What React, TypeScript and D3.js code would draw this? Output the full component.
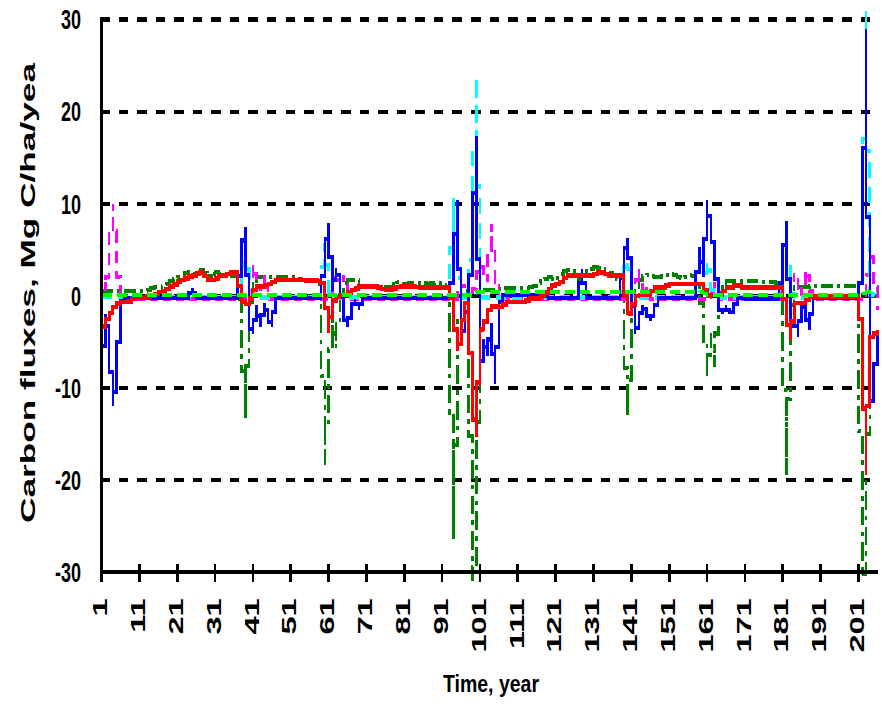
import React, { useEffect, useRef } from "react";
import * as d3 from "d3";

// the whole picture is drawn taller than wide, so everything is squeezed into a
// group that is stretched back by SY
const SY = 1.55;

const YEARS = d3.range(1, 207);
const TICK_YEARS = [1, 11, 21, 31, 41, 51, 61, 71, 81, 91, 101, 111, 121, 131, 141, 151, 161, 171, 181, 191, 201];
const Y_TICKS = [30, 20, 10, 0, -10, -20, -30];
const Y_LABELS = ["30", "20", "10", "0", "-10", "-20", "-30"];

const RED = [
  -4.0, -2.7, -2.3, -1.4, -1.0, -0.7, -0.7, -0.7, -0.5, -0.2,
  -0.2, -0.2, -0.2, 0.0, 0.0, 0.4, 0.4, 0.5, 1.0, 1.0,
  1.4, 1.7, 1.7, 2.1, 2.1, 2.3, 2.5, 2.5, 1.8, 1.7,
  1.7, 2.1, 2.2, 2.2, 2.5, 2.5, 2.5, -0.4, -0.9, -0.9,
  0.3, 1.0, 1.0, 1.0, 1.3, 1.3, 1.7, 1.7, 1.7, 1.7,
  1.7, 1.7, 1.7, 1.7, 1.7, 1.6, 1.7, 1.7, 1.5, 1.3,
  -4.0, -0.6, -0.4, 0.1, 0.1, 0.1, 0.6, 0.6, 1.0, 1.0,
  1.0, 1.0, 1.0, 1.0, 0.8, 0.7, 0.7, 0.7, 0.9, 1.0,
  1.0, 1.0, 1.0, 1.0, 0.9, 0.9, 0.9, 0.9, 0.9, 0.9,
  0.9, 0.9, 0.9, -1.3, -6.0, -4.5, -0.8, -0.8, -11.6, -15.3,
  -3.5, -3.8, -1.8, -1.3, -1.0, -1.2, -1.2, -0.7, -0.7, -0.7,
  -0.7, -0.7, -0.7, -0.3, -0.3, -0.3, -0.3, 0.2, 0.5, 0.9,
  1.3, 1.3, 1.7, 2.2, 2.2, 2.2, 2.2, 2.2, 2.2, 2.2,
  2.2, 2.5, 2.5, 2.5, 2.2, 2.2, 2.2, 2.2, 2.2, -2.1,
  -1.8, -0.1, 0.1, 0.1, 0.1, 0.1, 0.9, 0.9, 0.9, 0.9,
  1.3, 1.3, 1.3, 1.3, 1.3, 1.3, 1.3, 1.3, 1.3, 1.3,
  -0.2, 0.1, 0.1, 0.1, 0.1, 0.9, 0.9, 0.9, 1.3, 0.9,
  0.9, 0.9, 0.9, 0.9, 0.9, 0.9, 0.9, 0.9, 0.9, 0.9,
  0.9, -1.6, -4.8, -0.8, -0.8, -0.8, -0.8, -0.1, -0.1, -0.1,
  -0.1, -0.1, -0.1, -0.1, -0.1, -0.1, -0.1, -0.1, -0.1, -0.1,
  -0.1, -5.0, -19.5, -4.5, -4.5, -3.7,
];

const BLUE = [
  -9.0, -2.0, -4.5, -12.0, -9.0, -1.0, -0.2, -0.2, -0.2, -0.2,
  -0.2, -0.2, -0.2, -0.2, -0.2, -0.2, -0.2, -0.2, -0.2, -0.2,
  -0.2, -0.2, -0.2, -0.2, 0.8, -0.2, -0.2, -0.2, -0.2, -0.2,
  -0.2, -0.2, -0.2, -0.2, -0.2, -0.2, -0.2, 4.5, 7.5, -3.0,
  -4.2, -1.0, -3.4, -0.8, -2.2, -3.4, -0.2, -0.2, -0.2, -0.2,
  -0.2, -0.2, -0.2, -0.2, -0.2, -0.2, -0.2, -0.2, -0.2, 4.5,
  7.9, 0.5, 3.0, 1.6, -1.8, -3.4, -1.5, -0.3, -1.5, -0.2,
  -0.2, -0.2, -0.2, -0.2, -0.2, -0.2, -0.2, -0.2, -0.2, -0.2,
  -0.2, -0.2, -0.2, -0.2, -0.2, -0.2, -0.2, -0.2, -0.2, -0.2,
  -0.2, -0.2, -0.2, 3.0, 10.4, -4.5, -3.1, -0.5, 5.0, 17.3,
  -9.4, -4.7, -6.5, -3.0, -9.6, -1.5, 0.1, 0.1, 0.1, 0.1,
  0.1, 0.1, 0.1, 0.1, 0.1, 0.1, 0.1, 0.1, -0.2, -0.2,
  -0.2, -0.2, -0.2, -0.2, -0.2, -0.2, -0.2, 2.9, -0.2, -0.2,
  -0.2, -0.2, -0.2, -0.2, -0.2, -0.2, -0.2, -0.2, 4.0, 6.3,
  2.0, -4.2, -2.7, -1.0, -1.8, -2.7, -1.8, -0.2, -0.2, -0.2,
  -0.2, -0.2, -0.2, -0.2, -0.2, -0.2, -0.2, -0.2, 5.3, 2.0,
  10.4, 7.0, 4.7, -1.0, -2.0, -1.0, -2.0, -1.5, -0.2, -0.2,
  -0.3, -0.3, -0.3, -0.3, -0.3, -0.3, -0.3, -0.3, -0.3, -0.3,
  3.0, 8.1, -4.5, -2.0, -4.5, -1.0, -1.5, -3.7, -0.2, -0.2,
  -0.2, -0.2, -0.2, -0.2, -0.2, -0.2, -0.2, -0.2, -0.2, -0.2,
  -0.2, 3.0, 29.0, -12.0, -10.8, -4.0,
];

const CYAN = [
  -0.1, -0.1, -0.1, -0.1, -0.1, -0.1, -0.1, -0.1, -0.1, -0.1,
  -0.2, -0.2, -0.2, -0.2, -0.2, -0.2, -0.2, -0.2, -0.2, -0.2,
  -0.2, -0.2, -0.2, -0.2, -0.2, -0.2, -0.2, -0.2, -0.2, -0.2,
  -0.2, -0.2, -0.2, -0.2, -0.2, -0.2, -0.2, 1.5, 5.3, 0.5,
  -0.2, -0.2, -0.2, -0.2, -0.2, -0.2, -0.2, -0.2, -0.2, -0.2,
  -0.2, -0.2, -0.2, -0.2, -0.2, -0.2, -0.2, -0.2, 0.5, 5.7,
  1.0, -0.2, -0.2, -0.2, -0.2, -0.2, -0.2, -0.2, -0.2, -0.2,
  -0.2, -0.2, -0.2, -0.2, -0.2, -0.2, -0.2, -0.2, -0.2, -0.2,
  -0.2, -0.2, -0.2, -0.2, -0.2, -0.2, -0.2, -0.2, -0.2, -0.2,
  -0.2, -0.2, -0.2, 10.6, 4.0, -0.2, -0.2, -0.2, 8.0, 23.8,
  0.0, -0.2, -0.2, -0.2, -0.2, -0.2, -0.2, -0.2, -0.2, -0.2,
  -0.2, -0.2, -0.2, -0.2, -0.2, -0.2, -0.2, -0.2, -0.2, -0.2,
  -0.2, -0.2, -0.2, -0.2, -0.2, -0.2, -0.2, -0.2, -0.2, -0.2,
  -0.2, -0.2, -0.2, -0.2, -0.2, -0.2, -0.2, -0.2, 1.0, 5.3,
  0.5, -0.2, -0.2, -0.2, -0.2, -0.2, -0.2, -0.2, -0.2, -0.2,
  -0.2, -0.2, -0.2, -0.2, -0.2, -0.2, -0.2, -0.2, -0.2, 1.0,
  4.0, 1.5, -0.2, -0.2, -0.2, -0.2, -0.2, -0.2, -0.2, -0.2,
  -0.2, -0.2, -0.2, -0.2, -0.2, -0.2, -0.2, -0.2, -0.2, -0.2,
  1.0, 7.5, 0.5, -0.2, -0.2, -0.2, -0.2, -0.2, -0.2, -0.2,
  -0.2, -0.2, -0.2, -0.2, -0.2, -0.2, -0.2, -0.2, -0.2, -0.2,
  -0.2, 3.0, 31.0, 0.5, -0.2, -0.2,
];

const MAGENTA = [
  3.0, 0.5, 3.5, 10.0, 4.0, 0.0, -0.4, -0.4, -0.4, -0.4,
  -0.4, -0.4, -0.4, -0.4, -0.4, -0.4, -0.4, -0.4, -0.4, -0.4,
  -0.4, -0.4, -0.4, -0.4, -0.4, -0.4, -0.4, -0.4, -0.4, -0.4,
  -0.4, -0.4, -0.4, -0.4, -0.4, -0.4, -0.4, -0.4, -0.4, 1.0,
  3.3, 1.5, 0.5, 2.2, -0.4, -0.4, -0.4, -0.4, -0.4, -0.4,
  -0.4, -0.4, -0.4, -0.4, -0.4, -0.4, -0.4, -0.4, -0.4, -0.4,
  -0.4, 1.0, 2.9, 0.5, 2.3, 0.0, -0.4, -0.4, -0.4, -0.4,
  -0.4, -0.4, -0.4, -0.4, -0.4, -0.4, -0.4, -0.4, -0.4, -0.4,
  -0.4, -0.4, -0.4, -0.4, -0.4, -0.4, -0.4, -0.4, -0.4, -0.4,
  -0.4, -0.4, -0.4, -0.4, -0.4, 2.2, 0.0, -0.4, 0.5, 1.0,
  4.2, 2.0, 1.5, 7.8, 3.0, 0.0, -0.4, -0.4, -0.4, -0.4,
  -0.4, -0.4, -0.4, -0.4, -0.4, -0.4, -0.4, -0.4, -0.4, -0.4,
  -0.4, -0.4, -0.4, -0.4, -0.4, -0.4, -0.4, -0.4, -0.4, -0.4,
  -0.4, -0.4, -0.4, -0.4, -0.4, -0.4, -0.4, -0.4, -0.4, -0.4,
  -0.4, 0.5, 2.9, 0.0, 1.0, -0.4, -0.4, -0.4, -0.4, -0.4,
  -0.4, -0.4, -0.4, -0.4, -0.4, -0.4, -0.4, -0.4, -0.4, -0.4,
  -0.4, -0.4, 1.5, -0.4, -0.4, -0.4, -0.4, -0.4, -0.4, -0.4,
  -0.4, -0.4, -0.4, -0.4, -0.4, -0.4, -0.4, -0.4, -0.4, -0.4,
  -0.4, -0.4, 0.0, 2.5, 1.0, 0.0, 2.8, 1.5, -0.4, -0.4,
  -0.4, -0.4, -0.4, -0.4, -0.4, -0.4, -0.4, -0.4, -0.4, -0.4,
  -0.4, -0.4, -0.4, 5.0, 3.5, -1.5,
];

const GREEN = [
  0.6, 0.5, 0.5, 0.5, 0.5, 0.5, 0.5, 0.5, 0.5, 0.5,
  0.5, 0.5, 0.5, 0.8, 0.9, 0.9, 0.9, 1.3, 1.3, 1.8,
  1.8, 2.2, 2.2, 2.8, 2.4, 2.4, 2.8, 2.8, 2.2, 2.0,
  2.8, 2.4, 2.4, 2.2, 2.2, 2.2, 2.2, -3.0, -13.4, -1.8,
  0.5, 2.0, 2.0, 2.0, 2.0, 2.0, 2.0, 2.0, 2.0, 2.0,
  2.0, 2.0, 2.0, 1.7, 1.7, 1.7, 1.7, 1.5, 1.0, -18.4,
  -9.0, -2.5, -5.7, -0.5, 1.0, 1.7, 1.7, 1.7, 1.7, 1.2,
  1.0, 1.0, 1.0, 1.0, 1.0, 1.0, 1.0, 1.0, 1.6, 1.3,
  1.3, 1.3, 1.4, 1.4, 1.4, 1.4, 1.3, 1.3, 1.4, 1.4,
  1.3, 1.0, 1.0, -26.4, -6.0, 0.5, 0.5, 0.5, -31.0, -28.0,
  0.6, 0.6, 0.6, 0.6, 0.6, 0.6, 0.8, 0.8, 0.8, 0.8,
  0.8, 0.8, 0.8, 0.8, 1.0, 1.2, 1.5, 1.7, 2.0, 2.0,
  1.7, 2.2, 2.5, 2.8, 2.8, 2.5, 2.0, 1.7, 2.5, 2.8,
  3.1, 3.1, 3.0, 2.8, 2.5, 2.5, 2.0, 1.7, -2.5, -13.2,
  -5.0, 0.5, 1.5, 2.0, 2.3, 2.3, 2.0, 2.0, 2.0, 2.2,
  2.4, 2.4, 2.2, 1.9, 1.9, 2.2, 2.3, 2.0, 0.5, -2.0,
  -8.9, -4.0, -7.7, -0.5, 1.0, 1.6, 1.6, 1.6, 1.6, 1.6,
  1.6, 1.6, 1.6, 1.6, 1.5, 1.5, 1.5, 1.5, 1.5, 1.2,
  -1.0, -19.5, -3.0, 0.9, 0.9, 0.9, 0.9, 1.1, 1.1, 1.1,
  1.1, 1.1, 1.1, 1.1, 1.1, 1.1, 1.1, 1.1, 1.1, 1.1,
  1.1, -30.5, -30.0, 0.0, 0.0, 0.0,
];

const LIME = [
  0.1, 0.1, 0.1, 0.1, 0.1, 0.1, 0.1, 0.1, 0.1, 0.1,
  0.1, 0.1, 0.1, 0.1, 0.1, 0.1, 0.1, 0.1, 0.1, 0.1,
  0.1, 0.1, 0.1, 0.1, 0.1, 0.1, 0.1, 0.1, 0.1, 0.1,
  0.1, 0.1, 0.1, 0.1, 0.1, 0.1, 0.1, 0.1, 0.1, 0.1,
  0.1, 0.1, 0.1, 0.1, 0.1, 0.1, 0.1, 0.1, 0.1, 0.1,
  0.1, 0.1, 0.1, 0.1, 0.1, 0.1, 0.1, 0.1, 0.1, 0.1,
  0.1, 0.1, 0.1, 0.1, 0.1, 0.1, 0.1, 0.1, 0.1, 0.1,
  0.1, 0.1, 0.1, 0.1, 0.1, 0.1, 0.1, 0.1, 0.1, 0.1,
  0.1, 0.1, 0.1, 0.1, 0.1, 0.1, 0.1, 0.1, 0.1, 0.1,
  0.1, 0.1, 0.1, 0.1, 0.1, 0.1, 0.1, 0.1, 0.1, 0.4,
  0.4, 0.4, 0.4, 0.4, 0.4, 0.4, 0.4, 0.4, 0.4, 0.4,
  0.4, 0.4, 0.4, 0.4, 0.4, 0.4, 0.4, 0.4, 0.4, 0.4,
  0.4, 0.4, 0.4, 0.4, 0.4, 0.4, 0.4, 0.4, 0.4, 0.4,
  0.4, 0.4, 0.4, 0.4, 0.4, 0.4, 0.4, 0.4, 0.4, 0.4,
  0.4, 0.4, 0.4, 0.4, 0.4, 0.4, 0.4, 0.4, 0.4, 0.4,
  0.4, 0.4, 0.4, 0.4, 0.4, 0.4, 0.4, 0.4, 0.4, 0.4,
  0.1, 0.1, 0.1, 0.1, 0.1, 0.1, 0.1, 0.1, 0.1, 0.1,
  0.1, 0.1, 0.1, 0.1, 0.1, 0.1, 0.1, 0.1, 0.1, 0.1,
  0.1, 0.1, 0.1, 0.1, 0.1, 0.1, 0.1, 0.1, 0.1, 0.1,
  0.1, 0.1, 0.1, 0.1, 0.1, 0.1, 0.1, 0.1, 0.1, 0.1,
  0.1, 0.1, 0.4, 0.4, 0.4, 0.4,
];

const SERIES = [
  { values: GREEN, color: "#008000", width: 2.6, dash: "12 4 3 4" },
  { values: MAGENTA, color: "#ff00ff", width: 2.6, dash: "8 5" },
  { values: CYAN, color: "#00ffff", width: 2.8, dash: "10 6" },
  { values: BLUE, color: "#0000ff", width: 2.6, dash: null },
  { values: RED, color: "#ff0000", width: 2.9, dash: null },
  { values: LIME, color: "#00ff00", width: 2.2, dash: "10 5" },
];

const FONT = "Liberation Sans, Arial, sans-serif";

const App = () => {
  const ref = useRef<SVGSVGElement>(null);

  useEffect(() => {
    const svg = d3.select(ref.current);
    svg.selectAll("*").remove();

    const x = d3.scaleLinear().domain([1, 206]).range([101.5, 877.4]);
    const y = d3.scaleLinear().domain([-30, 30]).range([572 / SY, 19.5 / SY]);

    const g = svg.append("g").attr("transform", `scale(1,${SY})`);

    /* gridlines */
    g.selectAll(".grid")
      .data(Y_TICKS.filter((d) => d !== -30))
      .enter()
      .append("line")
      .attr("x1", 100)
      .attr("x2", 873)
      .attr("y1", (d) => y(d))
      .attr("y2", (d) => y(d))
      .attr("stroke", "#000")
      .attr("stroke-width", 2.6)
      .attr("stroke-dasharray", "9.5 9.05")
      .attr("shape-rendering", "crispEdges");

    /* series: the old chart was drawn at about one pixel per year and blown up,
       so a segment between two years shows as two vertical runs that meet
       half way (one in each year's column) */
    const pixelLine = (vals: number[]) => {
      const p = d3.path();
      vals.forEach((v, i) => {
        const px = x(YEARS[i]);
        if (i === 0) {
          p.moveTo(px, y(v));
          return;
        }
        const mid = y((vals[i - 1] + v) / 2);
        p.lineTo(x(YEARS[i - 1]), mid);
        p.lineTo(px, mid);
        p.lineTo(px, y(v));
      });
      return p.toString();
    };

    SERIES.forEach((s) => {
      g.append("path")
        .attr("fill", "none")
        .attr("stroke", s.color)
        .attr("stroke-width", s.width)
        .attr("stroke-dasharray", s.dash)
        .attr("stroke-linejoin", "miter")
        .attr("shape-rendering", "crispEdges")
        .attr("d", pixelLine(s.values));
    });

    /* axes */
    g.append("line")
      .attr("x1", 101.5)
      .attr("x2", 101.5)
      .attr("y1", 18 / SY)
      .attr("y2", 582 / SY)
      .attr("stroke", "#000")
      .attr("stroke-width", 3)
      .attr("shape-rendering", "crispEdges");
    g.append("line")
      .attr("x1", 100)
      .attr("x2", 878)
      .attr("y1", y(-30))
      .attr("y2", y(-30))
      .attr("stroke", "#000")
      .attr("stroke-width", 3)
      .attr("shape-rendering", "crispEdges");

    g.selectAll(".xtick")
      .data(TICK_YEARS)
      .enter()
      .append("line")
      .attr("x1", (d) => x(d))
      .attr("x2", (d) => x(d))
      .attr("y1", 564 / SY)
      .attr("y2", 582 / SY)
      .attr("stroke", "#000")
      .attr("stroke-width", 2.7)
      .attr("shape-rendering", "crispEdges");

    g.selectAll(".xlabel")
      .data(TICK_YEARS)
      .enter()
      .append("text")
      .attr("transform", (d) => `translate(${x(d)},386) rotate(-90)`)
      .attr("text-anchor", "end")
      .attr("dy", "0.27em")
      .attr("font-family", FONT)
      .attr("font-weight", "bold")
      .attr("font-size", 21)
      .text((d) => String(d));

    g.selectAll(".ylabel")
      .data(Y_TICKS)
      .enter()
      .append("text")
      .attr("x", 81)
      .attr("y", (d) => y(d) + 6.4)
      .attr("text-anchor", "end")
      .attr("font-family", FONT)
      .attr("font-weight", "bold")
      .attr("font-size", 18)
      .text((d, i) => Y_LABELS[i]);

    /* titles */
    svg
      .append("text")
      .attr("x", 491)
      .attr("y", 692)
      .attr("text-anchor", "middle")
      .attr("font-family", FONT)
      .attr("font-weight", "bold")
      .attr("font-size", 23)
      .attr("textLength", 96)
      .attr("lengthAdjust", "spacingAndGlyphs")
      .text("Time, year");

    svg
      .append("text")
      .attr("transform", "translate(35,293) rotate(-90)")
      .attr("text-anchor", "middle")
      .attr("font-family", FONT)
      .attr("font-weight", "bold")
      .attr("font-size", 21)
      .attr("textLength", 460)
      .attr("lengthAdjust", "spacingAndGlyphs")
      .text("Carbon fluxes, Mg C/ha/yea");
  }, []);

  return (
    <svg
      ref={ref}
      width={882}
      height={707}
      style={{ position: "absolute", left: 0, top: 0, background: "#fff" }}
    />
  );
};

export default App;
